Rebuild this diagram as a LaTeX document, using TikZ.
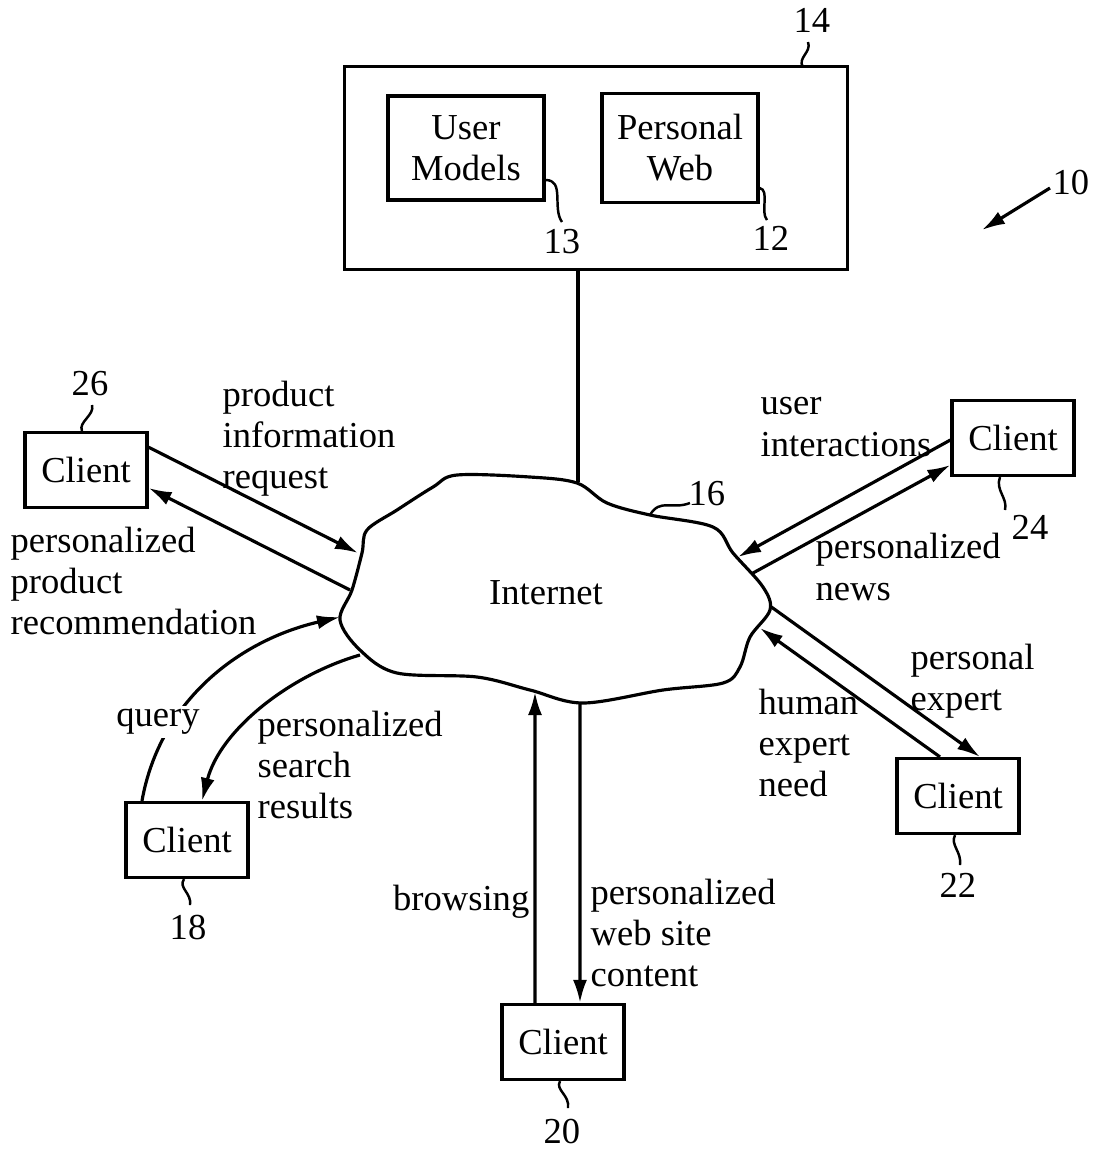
\documentclass[tikz,border=0pt]{standalone}
\usepackage{fontspec}
\setmainfont{Liberation Serif}
\usetikzlibrary{arrows.meta}
\tikzset{every node/.style={font=\fontsize{10.4}{11.7}\selectfont},
    box/.style={draw, line width=0.9pt, inner sep=0pt},
    client/.style={box, minimum width=1.22cm, minimum height=0.75cm},
    inbox/.style={box, minimum width=1.56cm, minimum height=1.04cm, align=center},
    flow/.style={line width=0.9pt, -{Latex[length=2.3mm,width=1.4mm]}},
    tag/.style={line width=0.7pt},
    lbl/.style={anchor=west, align=left, inner sep=0pt},
    }

\begin{document}
\begin{tikzpicture}[x=0.01cm, y=-0.01cm]
\useasboundingbox (0,0) rectangle (1094,1150);
% server
\node[box, minimum width=5.03cm, minimum height=2.03cm] (server) at (596,168) {};
\node[inbox] (models) at (466,148) {User\\Models};
\node[inbox, minimum height=1.09cm] (pweb) at (680,148) {Personal\\Web};
% internet cloud
\draw[line width=0.9pt] plot[smooth cycle, tension=0.55] coordinates {
    (340,620) (360,650) (397,673) (477,677) (530,690) (583,703) (663,690)
    (723,683) (740,667) (750,637) (770,610) (763,587) (733,553) (713,527)
    (650,515) (607,503) (577,483) (530,477) (457,475) (433,487) (397,510)
    (367,530) (362,553) (352,590)};
\node (inet) at (546,593) {Internet};
\coordinate (ctop) at (578,482);
\coordinate (i26in) at (358,553);
\coordinate (i26out) at (350,590);
\coordinate (i18in) at (340,617);
\coordinate (i18out) at (360,655);
\coordinate (i20in) at (535,692);
\coordinate (i20out) at (580,702);
\coordinate (i24in) at (738,557);
\coordinate (i24out) at (753,573);
\coordinate (i22out) at (770,606);
\coordinate (i22in) at (760,628);
% clients
\node[client] (c26) at (86,470) {Client};
\node[client] (c18) at (187,840) {Client};
\node[client] (c20) at (563,1042) {Client};
\node[client] (c24) at (1013,438) {Client};
\node[client] (c22) at (958,796) {Client};
% links
\draw[line width=0.9pt] (server.south -| ctop) -- (ctop);
\draw[flow] (c26.20) -- (i26in);
\draw[flow] (i26out) -- (c26.-16);
\draw[flow] ([xshift=-0.45cm]c18.north) .. controls (160,700) and (240,640) .. (i18in);
\draw[flow] (i18out) .. controls (290,675) and (220,730) .. ([xshift=0.15cm]c18.north);
\draw[flow] ([xshift=-0.28cm]c20.north) -- (i20in);
\draw[flow] (i20out) -- ([xshift=0.17cm]c20.north);
\draw[flow] ([yshift=-0.02cm]c24.west) -- (i24in);
\draw[flow] (i24out) -- ([yshift=-0.27cm]c24.west);
\draw[flow] (i22out) -- ([xshift=0.22cm]c22.north);
\draw[flow] ([xshift=-0.18cm]c22.north) -- (i22in);
% labels
\node[lbl] (l26a) at (222,439) {product\\information\\request};
\node[lbl] (l26b) at (10,581) {personalized\\product\\recommendation};
\node[fill=white, inner sep=1pt] (l18a) at (158,722) {query};
\node[lbl] (l18b) at (257,765) {personalized\\search\\results};
\node[anchor=east, inner sep=0pt] (l20a) at (530,902) {browsing};
\node[lbl] (l20b) at (590,933) {personalized\\web site\\content};
\node[lbl] (l24a) at (760,427) {user\\interactions};
\node[lbl] (l24b) at (815,567) {personalized\\news};
\node[lbl] (l22a) at (910,681) {personal\\expert};
\node[lbl] (l22b) at (758,743) {human\\expert\\need};
% reference numerals
\node (n14) at (812,20) {14};
\node (n13) at (562,242) {13};
\node (n12) at (771,238) {12};
\node (n16) at (707,494) {16};
\node (n26) at (90,384) {26};
\node (n18) at (188,928) {18};
\node (n20) at (562,1132) {20};
\node (n24) at (1030,527) {24};
\node (n22) at (958,885) {22};
\node (n10) at (1071,183) {10};
\draw[tag] (803,67) .. controls (797,58) and (812,52) .. (808,42);
\draw[tag] (models.east |- 0,180) .. controls (565,180) and (552,208) .. (562,222);
\draw[tag] (pweb.east |- 0,188) .. controls (770,190) and (760,212) .. (767,220);
\draw[tag] (650,515) .. controls (660,498) and (672,510) .. (690,503);
\draw[tag] (c26.north -| 82,0) .. controls (78,422) and (95,415) .. (92,405);
\draw[tag] (c18.south -| 184,0) .. controls (178,888) and (192,893) .. (190,905);
\draw[tag] (c20.south -| 560,0) .. controls (555,1090) and (570,1095) .. (568,1108);
\draw[tag] (c24.south -| 1000,0) .. controls (995,490) and (1008,498) .. (1005,510);
\draw[tag] (c22.south -| 955,0) .. controls (950,845) and (962,852) .. (960,865);
\draw[flow] (1050,188) -- (982,230);
\end{tikzpicture}
\end{document}
